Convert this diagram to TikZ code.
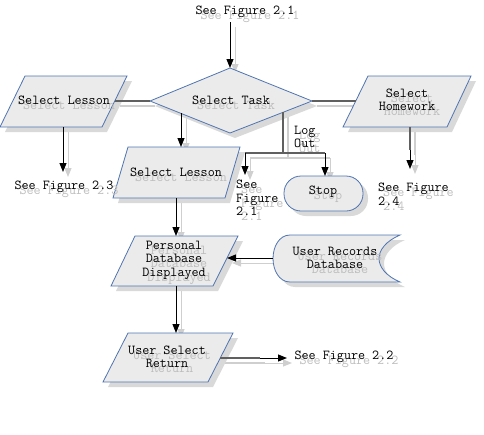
\documentclass[tikz,border=0pt]{standalone}
\usepackage{fontspec}
\usetikzlibrary{arrows.meta}
\definecolor{boxblue}{HTML}{4F74B0}
\definecolor{boxfill}{HTML}{EBEBEB}
\definecolor{shfill}{HTML}{D9D9D9}
\definecolor{shline}{HTML}{CFCFCF}
\definecolor{shtext}{HTML}{BDBDBD}
\definecolor{linegray}{HTML}{606060}
\tikzset{
  lbl/.style={inner sep=0pt, align=center},
  lblL/.style={inner sep=0pt, align=left, anchor=west},
  conn/.style={line width=1pt},
  arr/.style={conn, -{Triangle[length=9pt,width=7pt]}},
  plainline/.style={line width=1.3pt},
}
% shapes: #1 = style
\newcommand\AllShapes[1]{%
  \path[#1] (25,76) -- (127,76) -- (102,127) -- (0,127) -- cycle;
  \path[#1] (230,68) -- (312,101) -- (230,133) -- (150,101) -- cycle;
  \path[#1] (368,76) -- (471,76) -- (447,127) -- (343,127) -- cycle;
  \path[#1] (128,147) -- (240,147) -- (225,198) -- (113,198) -- cycle;
  \path[#1, rounded corners=17pt] (284,176) rectangle (363,211);
  \path[#1] (135,236) -- (238,236) -- (213,286) -- (111,286) -- cycle;
  \path[#1] (290,235) -- (400,235) .. controls (386,241) and (379,250) .. (379,258.5)
     .. controls (379,267) and (386,276) .. (400,282) -- (290,282)
     .. controls (279,282) and (273,270) .. (273,258.5)
     .. controls (273,247) and (279,235) .. (290,235) -- cycle;
  \path[#1] (128,333) -- (233,333) -- (208,382) -- (103,382) -- cycle;
}
% connectors: #1 arrow colour, #2 plain line colour
\newcommand\AllConn[2]{%
  \draw[arr,#1] (tpS) -- (dT);
  \draw[plainline,#2] (p1R) -- (dL);
  \draw[plainline,#2] (dR) -- (p5L);
  \draw[arr,#1] (p1B) -- (f23T);
  \draw[arr,#1] (dBL) -- (p2T);
  \draw[plainline,#2] (dBR) -- (br);
  \draw[plainline,#2] (brL) -- (brR);
  \draw[arr,#1] (brL) -- (f21T);
  \draw[arr,#1] (brR) -- (stopT);
  \draw[plainline,#2] (p5B) -- (p5Bm);
  \draw[arr,#1] (p5Bm) -- (f24T);
  \draw[arr,#1] (p2B) -- (p3T);
  \draw[arr,#1] (urdL) -- (p3R);
  \draw[arr,#1] (p3B) -- (p4T);
  \draw[plainline,#2] (p4R) -- (p4Rm);
  \draw[arr,#1] (p4Rm) -- (f22L);
}
% texts: #1 name suffix, #2 colour
\newcommand\AllText[2]{%
  \node[lbl,text=#2] (topref#1) at (245,12) {See Figure 2.1};
  \node[lbl,text=#2] (task#1) at (231,100) {Select Task};
  \node[lbl,text=#2] (lesA#1) at (64,100) {Select Lesson};
  \node[lbl,text=#2] (hw#1) at (407,100) {Select\\Homework};
  \node[lbl,text=#2] (lesB#1) at (176,172) {Select Lesson};
  \node[lbl,text=#2] (figC#1) at (64,187) {See Figure 2.3};
  \node[lblL,text=#2] (logout#1) at (294,137) {Log\\Out};
  \node[lblL,text=#2] (figA#1) at (236,198) {See\\Figure\\2.1};
  \node[lbl,text=#2] (stop#1) at (323,192) {Stop};
  \node[lblL,text=#2] (figD#1) at (378,194) {See Figure\\2.4};
  \node[lbl,text=#2] (pdb#1) at (174,260) {Personal\\Database\\Displayed};
  \node[lbl,text=#2] (urd#1) at (335,258) {User Records\\Database};
  \node[lbl,text=#2] (usr#1) at (167,357) {User Select\\Return};
  \node[lbl,text=#2] (figB#1) at (344,357) {See Figure 2.2};
}
\begin{document}
\begin{tikzpicture}[x=1pt,y=-1pt,font=\ttfamily\fontsize{13.7}{13.5}\selectfont]
\useasboundingbox (0,0) rectangle (484,434);
\coordinate (tpS) at (230,22);
\coordinate (dT) at (230,68);
\coordinate (p1R) at (115,101);
\coordinate (dL) at (150,101);
\coordinate (dR) at (312,101);
\coordinate (p5L) at (356,101);
\coordinate (p1B) at (63,127);
\coordinate (f23T) at (63,172);
\coordinate (dBL) at (181,113);
\coordinate (p2T) at (181,147);
\coordinate (dBR) at (283,112);
\coordinate (br) at (283,153);
\coordinate (brL) at (245,153);
\coordinate (brR) at (325,153);
\coordinate (f21T) at (245,175);
\coordinate (stopT) at (325,176);
\coordinate (p5B) at (410,127);
\coordinate (p5Bm) at (410,150);
\coordinate (f24T) at (410,169);
\coordinate (p2B) at (176,198);
\coordinate (p3T) at (176,236);
\coordinate (urdL) at (273,258);
\coordinate (p3R) at (227,258);
\coordinate (p3B) at (176,286);
\coordinate (p4T) at (176,333);
\coordinate (p4R) at (220,358);
\coordinate (p4Rm) at (260,358);
\coordinate (f22L) at (287,358);
% shadows of connectors and shapes
\begin{scope}[transform canvas={shift={(5,5)}}]
  \AllConn{shline}{shline}
  \AllShapes{fill=shfill}
\end{scope}
% shapes
\AllShapes{fill=boxfill, draw=boxblue, line width=0.8pt}
% connectors
\AllConn{black}{linegray}
% text shadows
\begin{scope}[transform canvas={shift={(5,5)}}]
  \AllText{s}{shtext}
\end{scope}
% texts
\AllText{}{black}
\end{tikzpicture}
\end{document}
